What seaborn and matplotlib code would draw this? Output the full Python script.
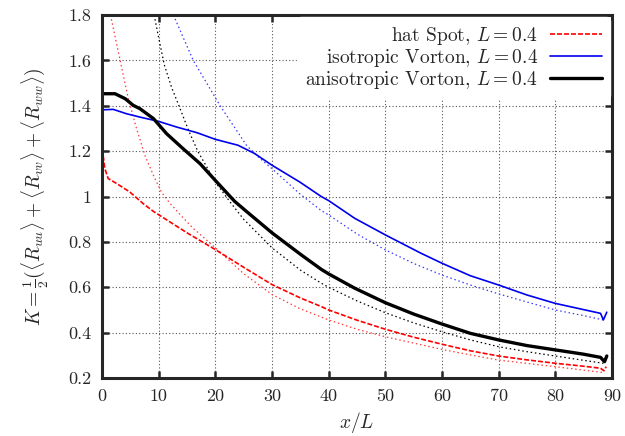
import numpy as np
import pandas as pd
import matplotlib
matplotlib.use("Agg")
import matplotlib.pyplot as plt
from matplotlib.ticker import FuncFormatter
import seaborn as sns

# hat Spot (measured)
spot_x = [0, 0.1, 0.5, 1.1, 2.6, 4.9, 7.3, 9.1, 15, 20, 25, 30, 35, 38.7, 40, 45, 50, 55, 60, 65, 70, 75, 80, 85, 88, 88.6, 89.0]
spot_y = [1.21, 1.2, 1.123, 1.079, 1.057, 1.02, 0.968, 0.934, 0.84, 0.766, 0.688, 0.612, 0.553, 0.515, 0.5, 0.455, 0.415, 0.38, 0.349, 0.32, 0.297, 0.28, 0.265, 0.252, 0.243, 0.232, 0.25]
# hat Spot (model)
spot_fit_x = [1.5, 3.2, 4.65, 6.1, 7.6, 9.1, 10.5, 12.0, 13.8, 16, 20, 25, 30, 35, 40, 45, 50, 60, 65, 70, 80, 88.5]
spot_fit_y = [1.8, 1.6, 1.431, 1.299, 1.18, 1.092, 1.019, 0.97, 0.92, 0.862, 0.774, 0.66, 0.568, 0.505, 0.456, 0.415, 0.382, 0.326, 0.302, 0.279, 0.25, 0.224]

# isotropic Vorton (measured)
iso_x = [0, 2, 4.3, 6.7, 10, 13.2, 16.8, 20, 24, 26.9, 30, 34.9, 38.7, 40, 44.6, 50, 56.3, 60, 65, 70, 75, 80, 84, 88, 88.5, 89.1]
iso_y = [1.382, 1.384, 1.365, 1.35, 1.331, 1.306, 1.281, 1.252, 1.226, 1.19, 1.138, 1.064, 1.0, 0.982, 0.904, 0.831, 0.75, 0.706, 0.651, 0.61, 0.566, 0.529, 0.507, 0.485, 0.456, 0.49]
# isotropic Vorton (model)
iso_fit_x = [12.6, 16.1, 20.8, 25.5, 27.9, 30, 34.9, 38.7, 40, 45, 50, 55, 60, 65, 70, 75, 80, 85, 88.5]
iso_fit_y = [1.8, 1.6, 1.402, 1.226, 1.167, 1.123, 1.012, 0.938, 0.919, 0.835, 0.765, 0.705, 0.654, 0.61, 0.571, 0.535, 0.5, 0.475, 0.456]

# anisotropic Vorton (measured)
aniso_x = [0, 2.3, 4.1, 5.5, 6.7, 9.1, 11.4, 14.3, 17.3, 20, 23.4, 25.7, 30, 35.1, 38.7, 40, 44.6, 50, 55, 60, 65, 70, 75, 80, 85, 88, 88.7, 89.1]
aniso_y = [1.453, 1.453, 1.431, 1.402, 1.387, 1.343, 1.277, 1.211, 1.145, 1.071, 0.979, 0.93, 0.84, 0.744, 0.679, 0.659, 0.596, 0.532, 0.482, 0.438, 0.397, 0.368, 0.343, 0.324, 0.305, 0.291, 0.272, 0.297]
# anisotropic Vorton (model)
aniso_fit_x = [9.2, 10, 11, 12.3, 13.9, 15.3, 16.9, 20, 22.6, 25, 30, 35, 38.7, 40, 45, 50, 55, 60, 65, 70, 75, 80, 85, 88.5]
aniso_fit_y = [1.8, 1.7, 1.58, 1.48, 1.38, 1.29, 1.2, 1.064, 0.976, 0.9, 0.774, 0.676, 0.618, 0.6, 0.54, 0.488, 0.443, 0.404, 0.368, 0.338, 0.316, 0.297, 0.278, 0.265]

x_ticks = [0, 10, 20, 30, 40, 50, 60, 70, 80, 90]
y_ticks = [0.2, 0.4, 0.6, 0.8, 1.0, 1.2, 1.4, 1.6, 1.8]

sns.set_style("ticks")
plt.rcParams['font.family'] = 'serif'
plt.rcParams['font.serif'] = ['cmr10', 'DejaVu Serif']
plt.rcParams['mathtext.fontset'] = 'cm'
plt.rcParams['axes.unicode_minus'] = False

fig = plt.figure(figsize=(6.25, 4.36), dpi=100)
ax = fig.add_axes([0.1632, 0.133, 0.8158, 0.8326])

def draw(x, y, **kw):
    df = pd.DataFrame({'x': x, 'y': y})
    sns.lineplot(data=df, x='x', y='y', ax=ax, sort=False, estimator=None, **kw)

dot = (0, (1.2, 2.2))
draw(spot_fit_x, spot_fit_y, color='#ff3a3a', lw=0.9, linestyle=dot)
draw(iso_fit_x, iso_fit_y, color='#3a3aff', lw=0.9, linestyle=dot)
draw(aniso_fit_x, aniso_fit_y, color='black', lw=0.9, linestyle=dot)
draw(spot_x, spot_y, color='red', lw=1.2, linestyle=(0, (3, 1.2)), label=r'hat Spot, $L=0.4$')
draw(iso_x, iso_y, color='#0000ee', lw=1.2, label=r'isotropic Vorton, $L=0.4$')
draw(aniso_x, aniso_y, color='black', lw=2.4, label=r'anisotropic Vorton, $L=0.4$')

ax.set_xlim(0, 90)
ax.set_ylim(0.2, 1.8)
ax.set_xticks(x_ticks)
ax.set_yticks(y_ticks)
ax.yaxis.set_major_formatter(FuncFormatter(lambda v, p: '%g' % v))
ax.tick_params(direction='in', length=5, width=1.8, top=True, right=True, labelsize=13, pad=8)
for s in ax.spines.values():
    s.set_linewidth(2.2)
ax.grid(True, linestyle=(0, (1, 2)), color='#555555', lw=0.8)
ax.set_axisbelow(True)

ax.set_xlabel(r'$x/L$', fontsize=14)
ax.set_ylabel(r'$K=\frac{1}{2}(\langle R_{uu}\rangle+\langle R_{vv}\rangle+\langle R_{ww}\rangle)$', fontsize=14, labelpad=12)

leg = ax.legend(loc='upper right', markerfirst=False, frameon=True, fontsize=14,
                handlelength=2.7, labelspacing=0.0, borderaxespad=0.1, borderpad=0.4,
                handletextpad=0.6)
for t in leg.get_texts():
    t.set_ha('right')
leg.get_frame().set_facecolor('white')
leg.get_frame().set_edgecolor('white')
leg.get_frame().set_alpha(1)
leg.set_zorder(5)

fig.savefig('out.png', dpi=100)
